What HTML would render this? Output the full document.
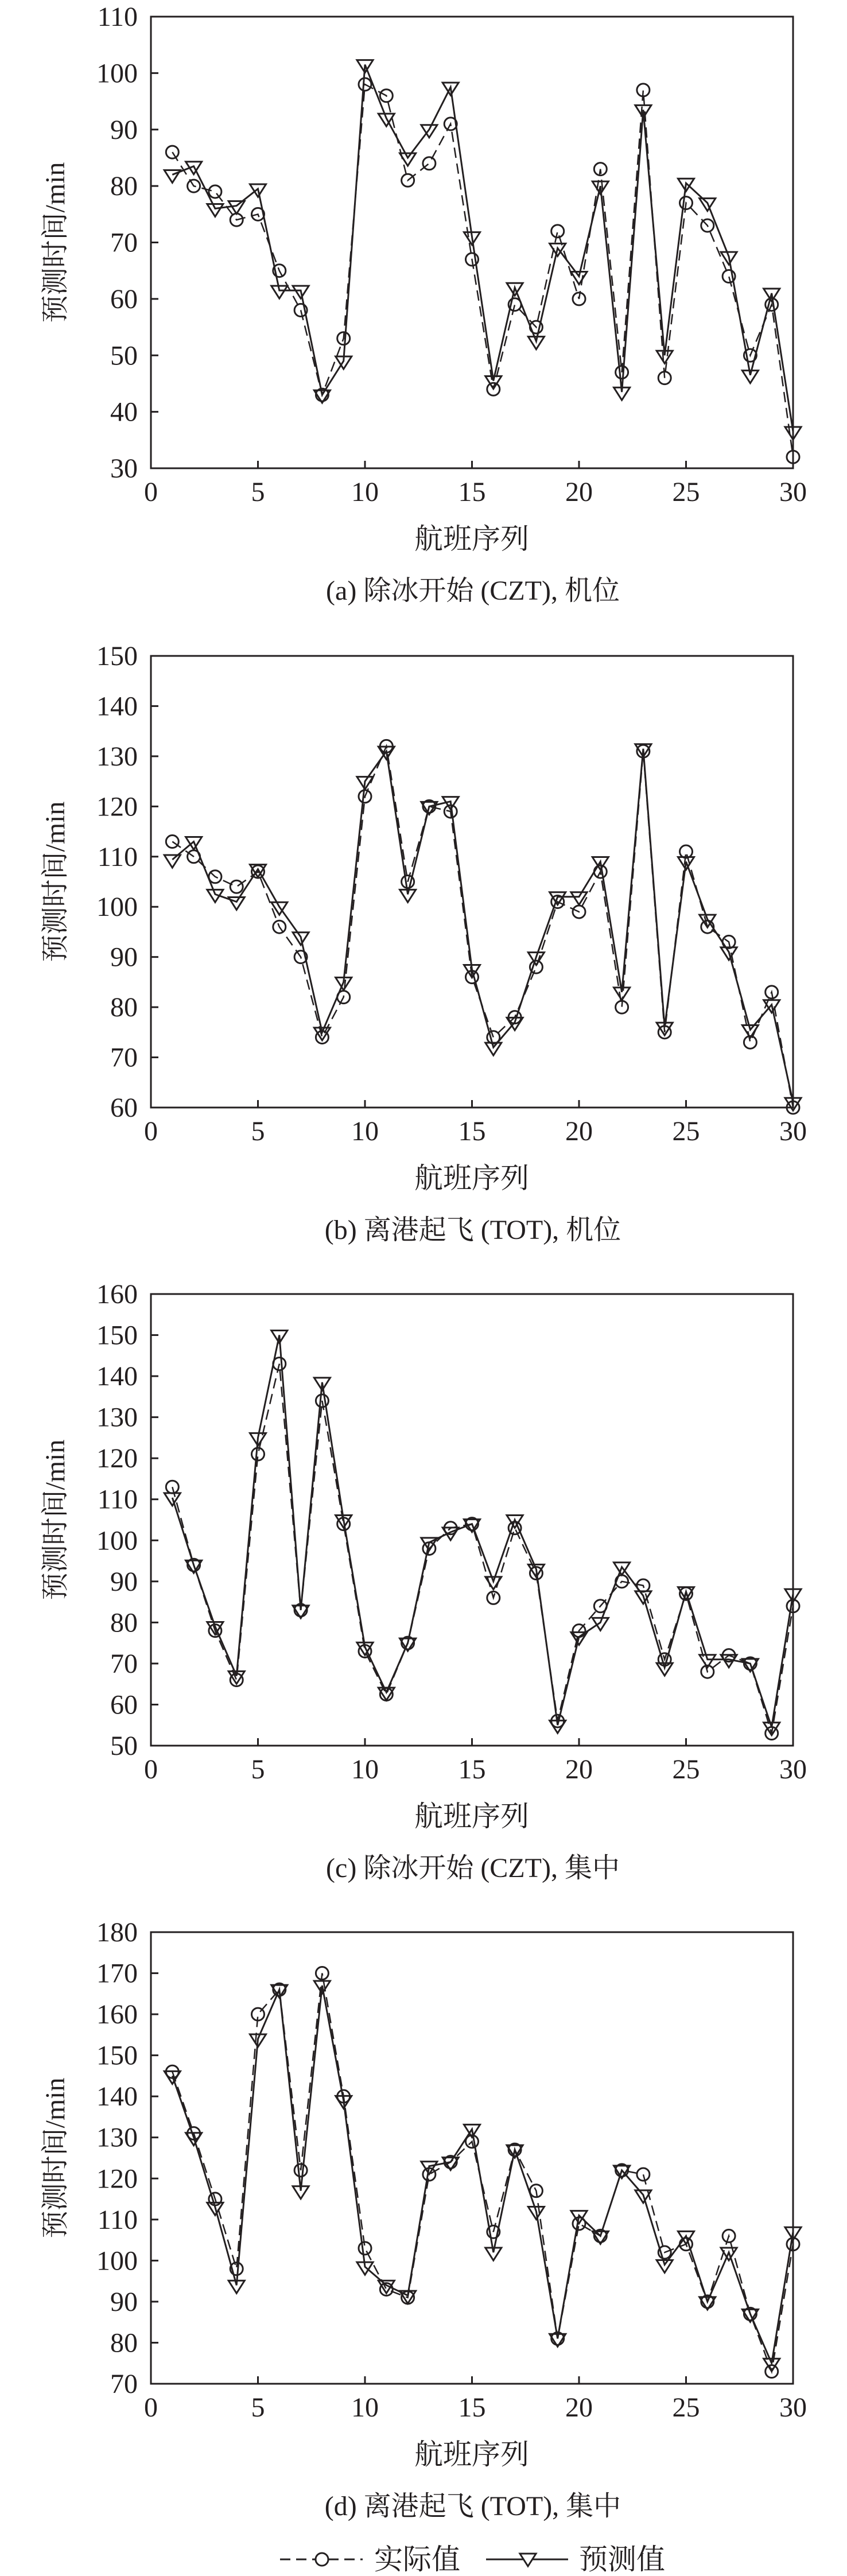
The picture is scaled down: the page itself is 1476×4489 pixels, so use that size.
<!DOCTYPE html>
<html><head><meta charset="utf-8"><style>
html,body{margin:0;padding:0;background:#fff;}
svg{display:block;}
text{font-family:"Liberation Serif","Noto Serif CJK SC","Noto Sans CJK SC",serif;fill:#231f20;}
</style></head>
<body>
<svg id="fig" width="1476" height="4489" viewBox="0 0 1476 4489" xmlns="http://www.w3.org/2000/svg">
<g id="legend">
  <g>
    <line x1="488" y1="4460" x2="632" y2="4460" stroke="#231f20" stroke-width="3" stroke-dasharray="18,10"/>
    <circle cx="561" cy="4460" r="11" fill="#fff" stroke="#231f20" stroke-width="3"/>
    <text x="652" y="4477" font-size="50">实际值</text>
  </g>
  <g>
    <line x1="847" y1="4460" x2="990" y2="4460" stroke="#231f20" stroke-width="3"/>
    <polygon points="906,4450 934,4450 920,4472" fill="#fff" stroke="#231f20" stroke-width="3"/>
    <text x="1009" y="4477" font-size="50">预测值</text>
  </g>
</g>
</svg>
<script>
const categories = [1,2,3,4,5,6,7,8,9,10,11,12,13,14,15,16,17,18,19,20,21,22,23,24,25,26,27,28,29,30];
const xTickLabels = [0,5,10,15,20,25,30];

const actualA = [86,80,79,74,75,65,58,43,53,98,96,81,84,91,67,44,59,55,72,60,83,47,97,46,77,73,64,50,59,32];
const predA   = [82,83.5,76,76.5,79.5,61.5,61.5,43,49,101.5,92,85,90,97.5,71,45.5,62,52.5,69,64,80,43.5,93.5,50,80.5,77,67.5,46.5,61,36.5];
const yTicksA = [30,40,50,60,70,80,90,100,110];

const actualB = [113,110,106,104,107,96,90,74,82,122,132,105,120,119,86,74,78,88,101,99,107,80,131,75,111,96,93,73,83,60];
const predB   = [109.4,113,102.5,101,107.5,100,94,75,85,125,131,102.5,120,121,87.5,72,77,90,102,102,109,83,131.5,76,109,97.5,91,75.5,80.5,61];
const yTicksB = [60,70,80,90,100,110,120,130,140,150];

const actualC = [113,94,78,66,121,143,83,134,104,73,62.5,75,98,103,104,86,103,92,56,78,84,90,89,71,87,68,72,70,53,84];
const predC   = [110.4,94,79,67,125,150,83,138.5,105,74,63,75,99.5,102,104,90,105,93,55,76.5,80,93.5,86.5,69,87.5,71,71,70,54.5,87];
const yTicksC = [50,60,70,80,90,100,110,120,130,140,150,160];

const actualD = [146,131,115,98,160,166,122,170,140,103,93,91,121,124,129,107,127,117,81,109,106,122,121,102,104,90,106,87,73,104];
const predD   = [145,130,113,94,154,166,117,167,139,98.5,94,91.5,123,124,132,102,127,112,81,111,106,122,116,99,106,90,102,87,75,107];
const yTicksD = [70,80,90,100,110,120,130,140,150,160,170,180];

const captionA = "(a) 除冰开始 (CZT), 机位";
const captionB = "(b) 离港起飞 (TOT), 机位";
const captionC = "(c) 除冰开始 (CZT), 集中";
const captionD = "(d) 离港起飞 (TOT), 集中";

const NS = "http://www.w3.org/2000/svg";
const svg = document.getElementById('fig');
const X0 = 263, X1 = 1382, H = 787;
function mk(tag, attrs, parent){
  const e = document.createElementNS(NS, tag);
  for (const k in attrs) e.setAttribute(k, attrs[k]);
  parent.appendChild(e);
  return e;
}
function drawChart(key, top, actual, pred, yTicks, caption){
  const yMin = yTicks[0], yMax = yTicks[yTicks.length-1];
  const bottom = top + H;
  const xs = v => X0 + (v - 0) / 30 * (X1 - X0);
  const ys = v => bottom - (v - yMin) / (yMax - yMin) * H;
  const g = mk('g', {}, svg);
  
  

  const frame = mk('rect', {x:X0, y:top, width:X1-X0, height:H, fill:'none', stroke:'#231f20', 'stroke-width':3}, g);
  
  

  yTicks.forEach(t => {
    const y = ys(t);
    if (t !== yMin && t !== yMax) {
      const tk = mk('line', {x1:X0, y1:y, x2:X0+13, y2:y, stroke:'#231f20', 'stroke-width':3}, g);
      
      
    }
    const tl = mk('text', {x:240, y:y+16, 'font-size':48, 'text-anchor':'end'}, g);
    
    
    tl.textContent = t;
  });
  xTickLabels.forEach(t => {
    const x = xs(t);
    if (t !== 0 && t !== 30) {
      const tk = mk('line', {x1:x, y1:bottom, x2:x, y2:bottom-13, stroke:'#231f20', 'stroke-width':3}, g);
      
      
    }
    const tl = mk('text', {x:x, y:bottom+57, 'font-size':48, 'text-anchor':'middle'}, g);
    
    
    tl.textContent = t;
  });
  const xt = mk('text', {x:822, y:bottom+140, 'font-size':50, 'text-anchor':'middle'}, g);
  
  
  xt.textContent = '航班序列';
  const cy = top + H/2;
  const yt = mk('text', {x:96, y:cy, 'font-size':48, 'text-anchor':'middle', transform:'rotate(-90 96 '+cy+') translate(0 16)'}, g);
  
  
  yt.textContent = '预测时间/min';
  const cap = mk('text', {x:824, y:bottom+229, 'font-size':48, 'text-anchor':'middle'}, g);
  
  
  cap.textContent = caption;

  const pa = categories.map((c,i) => xs(c)+','+ys(actual[i])).join(' ');
  const pp = categories.map((c,i) => xs(c)+','+ys(pred[i])).join(' ');
  const la = mk('polyline', {points:pa, fill:'none', stroke:'#231f20', 'stroke-width':2.5, 'stroke-dasharray':'18,10'}, g);
  
  
  const lp = mk('polyline', {points:pp, fill:'none', stroke:'#231f20', 'stroke-width':3}, g);
  
  

  categories.forEach((c,i) => {
    const x = xs(c), y = ys(actual[i]);
    const m = mk('circle', {cx:x, cy:y, r:11, fill:'none', stroke:'#231f20', 'stroke-width':3}, g);
    
    
  });
  categories.forEach((c,i) => {
    const x = xs(c), y = ys(pred[i]);
    const m = mk('polygon', {points:(x-14)+','+(y-8)+' '+(x+14)+','+(y-8)+' '+x+','+(y+14), fill:'none', stroke:'#231f20', 'stroke-width':3}, g);
    
    
  });
}
drawChart('a', 29, actualA, predA, yTicksA, captionA);
drawChart('b', 1143, actualB, predB, yTicksB, captionB);
drawChart('c', 2255, actualC, predC, yTicksC, captionC);
drawChart('d', 3367, actualD, predD, yTicksD, captionD);
</script>
</body></html>
